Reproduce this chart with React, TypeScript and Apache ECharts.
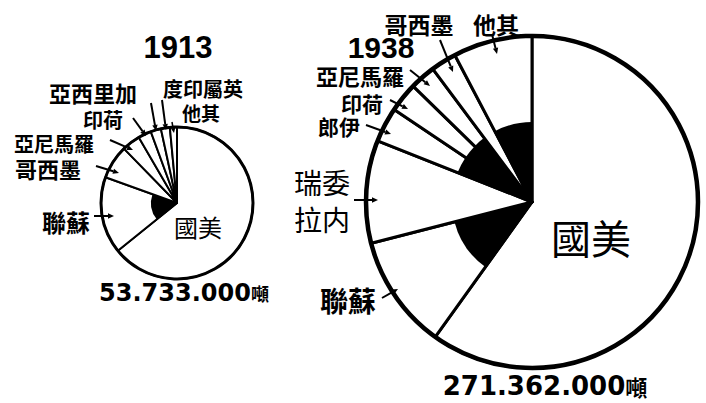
import React, { useEffect, useRef } from "react";
import * as echarts from "echarts";

// 1913 world oil production shares (%), clockwise from 12 o'clock
const names1913 = ["國美", "聯蘇", "哥西墨", "亞尼馬羅", "印荷", "亞西里加", "度印屬英", "他其"];
const share1913 = [64.2, 16.3, 7.2, 3.9, 2.8, 2.2, 1.9, 1.5];
const dark1913 = [false, true, false, false, false, false, false, false];
const total1913 = "53.733.000";

// 1938 world oil production shares (%)
const names1938 = ["國美", "聯蘇", "瑞委拉内", "郎伊", "印荷", "亞尼馬羅", "哥西墨", "他其"];
const share1938 = [59.9, 11.1, 10.0, 3.4, 2.9, 2.5, 2.5, 7.7];
const dark1938 = [false, true, false, true, true, true, false, true];
const total1938 = "271.362.000";

const years = ["1913", "1938"];
const unit = "噸";

const CJK = '"Noto Sans CJK TC", "Noto Sans CJK SC", sans-serif';

function arrow(x1: number, y1: number, x2: number, y2: number, w = 2, h = 6) {
  const a = Math.atan2(y2 - y1, x2 - x1);
  const bx = x2 - Math.cos(a) * h;
  const by = y2 - Math.sin(a) * h;
  const px = Math.cos(a + Math.PI / 2) * h * 0.45;
  const py = Math.sin(a + Math.PI / 2) * h * 0.45;
  return [
    { type: "line", z: 100, shape: { x1, y1, x2: bx, y2: by }, style: { stroke: "#000", lineWidth: w } },
    {
      type: "polygon",
      z: 100,
      shape: { points: [[x2, y2], [bx + px, by + py], [bx - px, by - py]] },
      style: { fill: "#000" },
    },
  ];
}

function txt(text: string, x: number, y: number, size: number, weight = "bold", family = CJK) {
  return {
    type: "text",
    z: 100,
    x,
    y,
    style: {
      text,
      fill: "#000",
      font: `${weight} ${size}px ${family}`,
      lineHeight: size,
      textAlign: "center",
      textVerticalAlign: "middle",
    },
  };
}

function pieSeries(center: number[], r: number, rInner: number, names: string[], vals: number[], dark: boolean[], bw: number) {
  const outer = {
    type: "pie",
    center,
    radius: r,
    startAngle: 90,
    clockwise: true,
    silent: true,
    z: 1,
    label: { show: false },
    labelLine: { show: false },
    emphasis: { disabled: true },
    itemStyle: { color: "#fff", borderColor: "#000", borderWidth: bw },
    data: names.map((n, i) => ({ name: n, value: vals[i] })),
  };
  const inner = {
    type: "pie",
    center,
    radius: rInner,
    startAngle: 90,
    clockwise: true,
    silent: true,
    z: 2,
    label: { show: false },
    labelLine: { show: false },
    emphasis: { disabled: true },
    data: names.map((n, i) => ({
      name: n + "_inner",
      value: vals[i],
      itemStyle: { color: dark[i] ? "#000" : "rgba(0,0,0,0)", borderWidth: 0 },
    })),
  };
  return [outer, inner];
}

export default function App() {
  const ref = useRef<HTMLDivElement>(null);
  useEffect(() => {
    document.body.style.margin = "0";
    const chart = echarts.init(ref.current!, null, { renderer: "svg" });
    const c1 = [177, 203];
    const r1 = 76;
    const c2 = [532, 202];
    const r2 = 166;
    const NUM = '"DejaVu Sans", sans-serif';
    const YEAR = '"Liberation Sans", Arial, sans-serif';
    const graphics: any[] = [
      { type: "circle", z: 90, shape: { cx: c1[0], cy: c1[1], r: r1 }, style: { fill: "none", stroke: "#000", lineWidth: 3 } },
      { type: "circle", z: 90, shape: { cx: c2[0], cy: c2[1], r: r2 }, style: { fill: "none", stroke: "#000", lineWidth: 4.5 } },
      // titles
      txt(years[0], 178, 47, 31, "bold", YEAR),
      txt(years[1], 381, 47, 30, "bold", YEAR),
      // 1913 labels
      txt(names1913[0], 198, 226, 24, "normal"),
      txt(names1913[1], 66, 221, 24),
      txt(names1913[2], 48, 168, 22),
      txt(names1913[3], 54, 143, 20),
      txt(names1913[4], 103, 119, 20),
      txt(names1913[5], 93, 92, 22),
      txt(names1913[6], 203, 88, 20),
      txt(names1913[7], 201, 112, 19),
      // 1938 labels
      txt(names1938[0], 591, 237, 40, "normal"),
      txt(names1938[1], 348, 300, 28),
      txt(names1938[2].slice(0, 2), 322, 182, 28, "normal"),
      txt(names1938[2].slice(2), 322, 219, 28, "normal"),
      txt(names1938[3], 339, 126, 21),
      txt(names1938[4], 362, 103, 21),
      txt(names1938[5], 360, 75, 22),
      txt(names1938[6], 419, 24, 23),
      txt(names1938[7], 496, 24, 23),
      // totals
      {
        type: "text",
        z: 100,
        x: 184,
        y: 293,
        style: {
          text: `{a|${total1913}}{b|${unit}}`,
          textAlign: "center",
          textVerticalAlign: "middle",
          rich: {
            a: { font: `bold 24px ${NUM}`, fill: "#000" },
            b: { font: `bold 18px ${CJK}`, fill: "#000" },
          },
        },
      },
      {
        type: "text",
        z: 100,
        x: 545,
        y: 386,
        style: {
          text: `{a|${total1938}}{b|${unit}}`,
          textAlign: "center",
          textVerticalAlign: "middle",
          rich: {
            a: { font: `bold 26px ${NUM}`, fill: "#000" },
            b: { font: `bold 22px ${CJK}`, fill: "#000" },
          },
        },
      },
      // 1913 arrows
      ...arrow(94, 216, 114, 216),
      ...arrow(96, 166, 119, 173),
      ...arrow(110, 140, 133, 150),
      ...arrow(133, 118, 146, 136),
      ...arrow(151, 103, 156, 131),
      ...arrow(162, 100, 166, 130),
      ...arrow(172, 122, 174, 133, 1.5, 5),
      // 1938 arrows
      ...arrow(492, 34, 497, 54),
      ...arrow(440, 40, 453, 72),
      ...arrow(410, 70, 430, 86),
      ...arrow(390, 100, 408, 109),
      ...arrow(366, 125, 391, 134),
      ...arrow(354, 200, 378, 200),
      ...arrow(382, 298, 398, 289),
    ];
    chart.setOption({
      animation: false,
      backgroundColor: "#fff",
      series: [
        ...pieSeries(c1, r1, 26, names1913, share1913, dark1913, 2),
        ...pieSeries(c2, r2, 80, names1938, share1938, dark1938, 3),
      ],
      graphic: { elements: graphics },
    });
    return () => chart.dispose();
  }, []);
  return <div ref={ref} style={{ width: 706, height: 403 }} />;
}
